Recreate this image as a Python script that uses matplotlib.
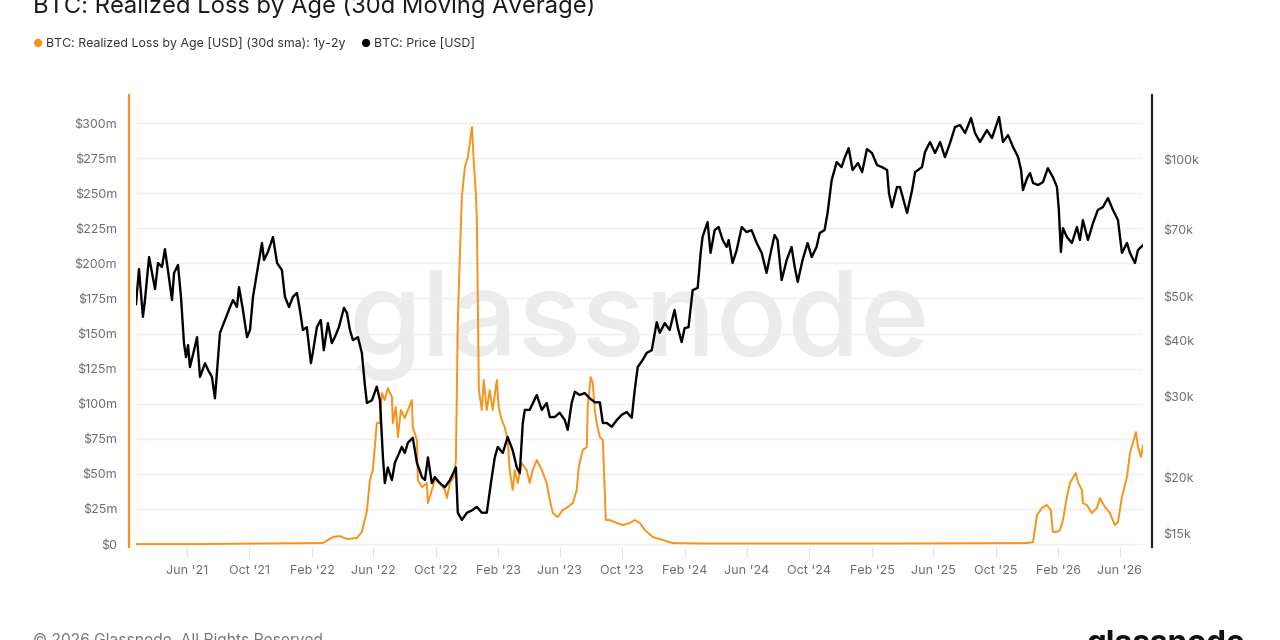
import pandas as pd
import matplotlib.pyplot as plt
import matplotlib.dates as mdates
from matplotlib.ticker import NullLocator

plt.rcParams['font.family'] = ['Inter', 'DejaVu Sans']

# Realized loss 1y-2y cohort, 30d sma (dates as decimal years, values in $m)
loss_t = [2021.141, 2021.484, 2021.805, 2022.143, 2022.197, 2022.234, 2022.272, 2022.325, 2022.352, 2022.379,
          2022.395, 2022.411, 2022.432, 2022.449, 2022.459, 2022.475, 2022.491, 2022.513, 2022.518, 2022.534,
          2022.545, 2022.561, 2022.582, 2022.599, 2022.620, 2022.625, 2022.647, 2022.652, 2022.674, 2022.700,
          2022.706, 2022.727, 2022.743, 2022.770, 2022.797, 2022.808, 2022.824, 2022.845, 2022.856, 2022.866,
          2022.877, 2022.888, 2022.904, 2022.920, 2022.942, 2022.952, 2022.963, 2022.968, 2022.979, 2022.995,
          2023.006, 2023.022, 2023.038, 2023.054, 2023.076, 2023.086, 2023.102, 2023.118, 2023.134, 2023.145,
          2023.161, 2023.172, 2023.188, 2023.209, 2023.236, 2023.252, 2023.268, 2023.290, 2023.317, 2023.343,
          2023.360, 2023.376, 2023.402, 2023.429, 2023.456, 2023.483, 2023.504, 2023.515, 2023.536, 2023.558,
          2023.563, 2023.579, 2023.590, 2023.601, 2023.611, 2023.628, 2023.644, 2023.660, 2023.681, 2023.719,
          2023.751, 2023.788, 2023.815, 2023.842, 2023.869, 2023.912, 2023.965, 2024.019, 2024.163, 2025.235,
          2025.916, 2025.948, 2025.969, 2025.996, 2026.023, 2026.044, 2026.055, 2026.077, 2026.093, 2026.109,
          2026.130, 2026.146, 2026.178, 2026.189, 2026.211, 2026.216, 2026.237, 2026.264, 2026.291, 2026.307,
          2026.334, 2026.361, 2026.387, 2026.404, 2026.425, 2026.452, 2026.468, 2026.484, 2026.500, 2026.511,
          2026.527, 2026.538]
loss_m = [0.0, 0.0, 0.4, 0.7, 5.0, 5.7, 3.6, 4.3, 8.6, 23.5,
          45.6, 52.7, 86.2, 86.2, 107.6, 102.6, 111.2, 104.8, 86.2, 97.6,
          76.2, 95.5, 89.8, 95.5, 102.6, 83.4, 74.1, 45.6, 40.6, 43.5,
          29.2, 38.5, 45.6, 43.5, 38.5, 32.8, 43.5, 47.7, 59.9, 157.5,
          204.5, 247.3, 268.7, 275.8, 297.2, 271.5, 250.1, 233.0, 109.7, 95.5,
          116.9, 95.5, 109.7, 95.5, 116.9, 97.6, 88.4, 83.4, 74.1, 52.7,
          38.5, 52.7, 43.5, 57.7, 52.7, 43.5, 52.7, 59.9, 52.7, 43.5,
          31.4, 22.1, 19.2, 24.2, 26.4, 29.2, 38.5, 54.9, 67.0, 69.1,
          97.6, 119.0, 114.7, 95.5, 86.2, 76.2, 74.1, 17.1, 17.1, 15.0,
          13.5, 15.0, 17.1, 15.0, 10.0, 5.0, 2.9, 0.7, 0.4, 0.4,
          0.7, 1.4, 20.7, 25.7, 27.8, 24.2, 8.6, 8.6, 10.0, 17.1,
          33.5, 43.5, 50.6, 44.2, 38.5, 29.2, 27.8, 22.1, 25.7, 32.8,
          26.4, 22.1, 13.5, 15.7, 33.5, 47.7, 64.8, 72.0, 79.8, 69.1,
          62.0, 70.5]

# BTC price ($k)
price_t = [2021.141, 2021.157, 2021.178, 2021.189, 2021.211, 2021.227, 2021.243, 2021.259, 2021.280, 2021.296,
           2021.312, 2021.334, 2021.345, 2021.366, 2021.382, 2021.398, 2021.409, 2021.420, 2021.430, 2021.452,
           2021.468, 2021.484, 2021.511, 2021.527, 2021.548, 2021.564, 2021.580, 2021.591, 2021.618, 2021.645,
           2021.661, 2021.682, 2021.693, 2021.714, 2021.736, 2021.752, 2021.768, 2021.789, 2021.816, 2021.827,
           2021.848, 2021.875, 2021.897, 2021.923, 2021.939, 2021.961, 2021.982, 2022.004, 2022.020, 2022.036,
           2022.057, 2022.079, 2022.089, 2022.111, 2022.132, 2022.148, 2022.170, 2022.191, 2022.207, 2022.229,
           2022.256, 2022.272, 2022.288, 2022.304, 2022.331, 2022.352, 2022.368, 2022.379, 2022.406, 2022.432,
           2022.449, 2022.465, 2022.475, 2022.491, 2022.513, 2022.529, 2022.566, 2022.582, 2022.599, 2022.625,
           2022.647, 2022.674, 2022.690, 2022.706, 2022.727, 2022.743, 2022.770, 2022.797, 2022.824, 2022.856,
           2022.866, 2022.888, 2022.915, 2022.942, 2022.968, 2022.995, 2023.022, 2023.049, 2023.065, 2023.081,
           2023.108, 2023.134, 2023.161, 2023.183, 2023.199, 2023.215, 2023.226, 2023.252, 2023.290, 2023.317,
           2023.343, 2023.360, 2023.386, 2023.413, 2023.440, 2023.456, 2023.477, 2023.494, 2023.520, 2023.547,
           2023.574, 2023.601, 2023.628, 2023.644, 2023.665, 2023.692, 2023.719, 2023.745, 2023.772, 2023.799,
           2023.815, 2023.831, 2023.858, 2023.879, 2023.906, 2023.933, 2023.949, 2023.976, 2024.003, 2024.029,
           2024.046, 2024.067, 2024.083, 2024.104, 2024.126, 2024.153, 2024.169, 2024.179, 2024.206, 2024.222,
           2024.244, 2024.265, 2024.287, 2024.308, 2024.319, 2024.340, 2024.362, 2024.389, 2024.415, 2024.442,
           2024.469, 2024.496, 2024.522, 2024.544, 2024.565, 2024.581, 2024.603, 2024.630, 2024.656, 2024.673,
           2024.689, 2024.715, 2024.742, 2024.764, 2024.790, 2024.807, 2024.833, 2024.849, 2024.871, 2024.898,
           2024.924, 2024.940, 2024.962, 2024.983, 2025.010, 2025.032, 2025.058, 2025.085, 2025.112, 2025.139,
           2025.166, 2025.176, 2025.192, 2025.219, 2025.235, 2025.273, 2025.300, 2025.316, 2025.353, 2025.369,
           2025.396, 2025.423, 2025.450, 2025.476, 2025.503, 2025.530, 2025.557, 2025.584, 2025.616, 2025.637,
           2025.664, 2025.701, 2025.728, 2025.766, 2025.787, 2025.814, 2025.841, 2025.868, 2025.884, 2025.894,
           2025.916, 2025.932, 2025.948, 2025.975, 2026.002, 2026.028, 2026.055, 2026.077, 2026.087, 2026.098,
           2026.109, 2026.130, 2026.157, 2026.184, 2026.200, 2026.216, 2026.243, 2026.270, 2026.296, 2026.323,
           2026.350, 2026.377, 2026.404, 2026.425, 2026.452, 2026.468, 2026.495, 2026.511, 2026.538]
price_k = [48.0, 57.3, 45.0, 49.0, 60.9, 56.2, 51.8, 59.1, 57.9, 63.4,
           57.0, 49.0, 56.2, 58.5, 49.8, 39.4, 36.7, 39.0, 34.9, 38.0,
           40.6, 33.2, 35.6, 34.4, 33.2, 29.8, 36.2, 41.5, 44.3, 47.3,
           49.0, 47.3, 52.3, 46.6, 40.6, 42.1, 49.8, 56.2, 65.4, 60.0,
           62.5, 67.4, 59.1, 57.0, 49.8, 47.3, 49.8, 50.8, 46.6, 42.1,
           42.7, 35.6, 37.5, 42.7, 44.3, 38.0, 43.6, 39.4, 40.6, 42.7,
           47.1, 45.9, 42.1, 40.0, 40.6, 37.5, 31.9, 29.1, 29.5, 31.6,
           29.5, 22.1, 19.4, 21.0, 19.7, 21.5, 23.3, 22.6, 23.8, 24.4,
           21.5, 20.0, 19.7, 22.1, 19.4, 20.0, 19.4, 19.0, 19.7, 21.0,
           16.7, 16.1, 16.7, 16.9, 17.2, 16.7, 16.7, 20.0, 22.1, 23.3,
           22.6, 24.5, 22.9, 21.0, 20.4, 26.3, 28.1, 28.1, 30.3, 28.1,
           29.1, 27.1, 27.1, 27.7, 26.7, 25.4, 29.1, 30.8, 30.3, 30.6,
           29.8, 29.2, 29.2, 26.3, 26.3, 25.8, 26.7, 27.4, 27.8, 27.0,
           31.1, 34.9, 36.2, 37.5, 38.0, 43.8, 41.5, 43.6, 42.1, 46.6,
           42.7, 39.6, 42.5, 42.7, 51.5, 52.1, 62.2, 67.4, 72.7, 62.2,
           69.8, 70.9, 66.4, 64.1, 66.4, 59.1, 63.1, 70.9, 69.1, 69.8,
           65.4, 62.2, 56.2, 62.2, 68.1, 66.4, 54.2, 60.0, 64.1, 57.9,
           53.7, 60.0, 65.4, 60.9, 64.1, 68.8, 69.8, 76.1, 89.9, 98.5,
           96.0, 100.5, 105.7, 94.6, 98.0, 93.6, 105.2, 103.1, 97.0, 96.0,
           94.6, 84.2, 78.4, 86.8, 86.8, 76.1, 85.5, 93.6, 96.0, 103.6,
           109.0, 103.1, 109.0, 101.0, 108.4, 117.6, 118.8, 114.1, 123.1, 114.1,
           109.0, 115.8, 111.2, 123.7, 109.0, 112.9, 106.3, 101.0, 94.6, 85.5,
           90.8, 93.2, 88.6, 87.7, 89.0, 95.5, 91.3, 86.8, 77.3, 62.5,
           70.5, 67.4, 65.4, 70.9, 66.4, 73.4, 66.4, 72.3, 77.3, 78.4,
           82.1, 77.3, 73.4, 62.2, 65.4, 62.2, 59.1, 63.1, 64.7]

loss_ticks = [0, 25, 50, 75, 100, 125, 150, 175, 200, 225, 250, 275, 300]
loss_labels = ['$0'] + [f'${v}m' for v in loss_ticks[1:]]
price_ticks = [15, 20, 30, 40, 50, 70, 100]
price_labels = [f'${v}k' for v in price_ticks]

ORANGE = '#f7931a'
GRAY = '#6e6e6e'


def to_dates(years):
    out = []
    for y in years:
        start = pd.Timestamp(int(y), 1, 1)
        out.append(start + pd.Timedelta(days=(y - int(y)) * 365.25))
    return out


fig = plt.figure(figsize=(12.8, 6.4), dpi=100)
ax = fig.add_axes([136 / 1280, 1 - 547 / 640, 1007 / 1280, 452 / 640])
ax2 = ax.twinx()

ax.plot(to_dates(loss_t), loss_m, color=ORANGE, lw=1.4, zorder=3)
ax2.plot(to_dates(price_t), price_k, color='black', lw=1.7, zorder=3)

ax.set_xlim(to_dates([loss_t[0], loss_t[-1]]))
ax.set_ylim(-2.1, 320)
ax2.set_yscale('log')
ax2.set_ylim(14.04, 138.3)

ax.set_yticks(loss_ticks)
ax.set_yticklabels(loss_labels)
ax2.set_yticks(price_ticks)
ax2.set_yticklabels(price_labels)
ax2.yaxis.set_minor_locator(NullLocator())

ax.xaxis.set_major_locator(mdates.MonthLocator(bymonth=[2, 6, 10]))
ax.xaxis.set_major_formatter(mdates.DateFormatter("%b '%y"))

ax.grid(axis='y', color='#efefef', lw=1)
ax.set_axisbelow(True)

for a in (ax, ax2):
    a.spines['top'].set_visible(False)
    a.spines['bottom'].set_visible(False)
ax.spines['right'].set_visible(False)
ax2.spines['left'].set_visible(False)
ax.spines['left'].set_position(('outward', 5))
ax.spines['left'].set_color(ORANGE)
ax.spines['left'].set_linewidth(1.6)
ax2.spines['right'].set_position(('outward', 6.5))
ax2.spines['right'].set_color('#222222')
ax2.spines['right'].set_linewidth(1.6)

ax.tick_params(axis='y', length=0, pad=8.5, labelsize=9, labelcolor=GRAY)
ax2.tick_params(axis='y', length=0, pad=8, labelsize=9, labelcolor=GRAY)
ax.tick_params(axis='x', length=7, color='#e3e3e3', pad=6, labelsize=9, labelcolor=GRAY)

# watermark
ax.text(0.5, 0.49, 'glassnode', transform=ax.transAxes, ha='center', va='center',
        fontsize=85, color='#ececec', fontweight='medium', zorder=0)

fig.text(33 / 1280, 1 - 13 / 640, 'BTC: Realized Loss by Age (30d Moving Average)',
         fontsize=17.1, color='#1a1a1a', va='baseline')

fig.text(32 / 1280, 1 - 47 / 640, '●', color=ORANGE, fontsize=8, va='baseline')
fig.text(46 / 1280, 1 - 47 / 640, 'BTC: Realized Loss by Age [USD] (30d sma): 1y-2y',
         fontsize=8.9, color='#333333', va='baseline')
fig.text(360 / 1280, 1 - 47 / 640, '●', color='black', fontsize=8, va='baseline')
fig.text(374 / 1280, 1 - 47 / 640, 'BTC: Price [USD]',
         fontsize=8.9, color='#333333', va='baseline')

fig.text(33 / 1280, 1 - 645 / 640, '© 2026 Glassnode. All Rights Reserved.',
         fontsize=11.2, color='#777777', va='baseline')
fig.text(1245 / 1280, 1 - 652 / 640, 'glassnode', fontsize=22.5, fontweight='bold',
         color='#111111', ha='right', va='baseline')

plt.savefig('out.png', dpi=100)
